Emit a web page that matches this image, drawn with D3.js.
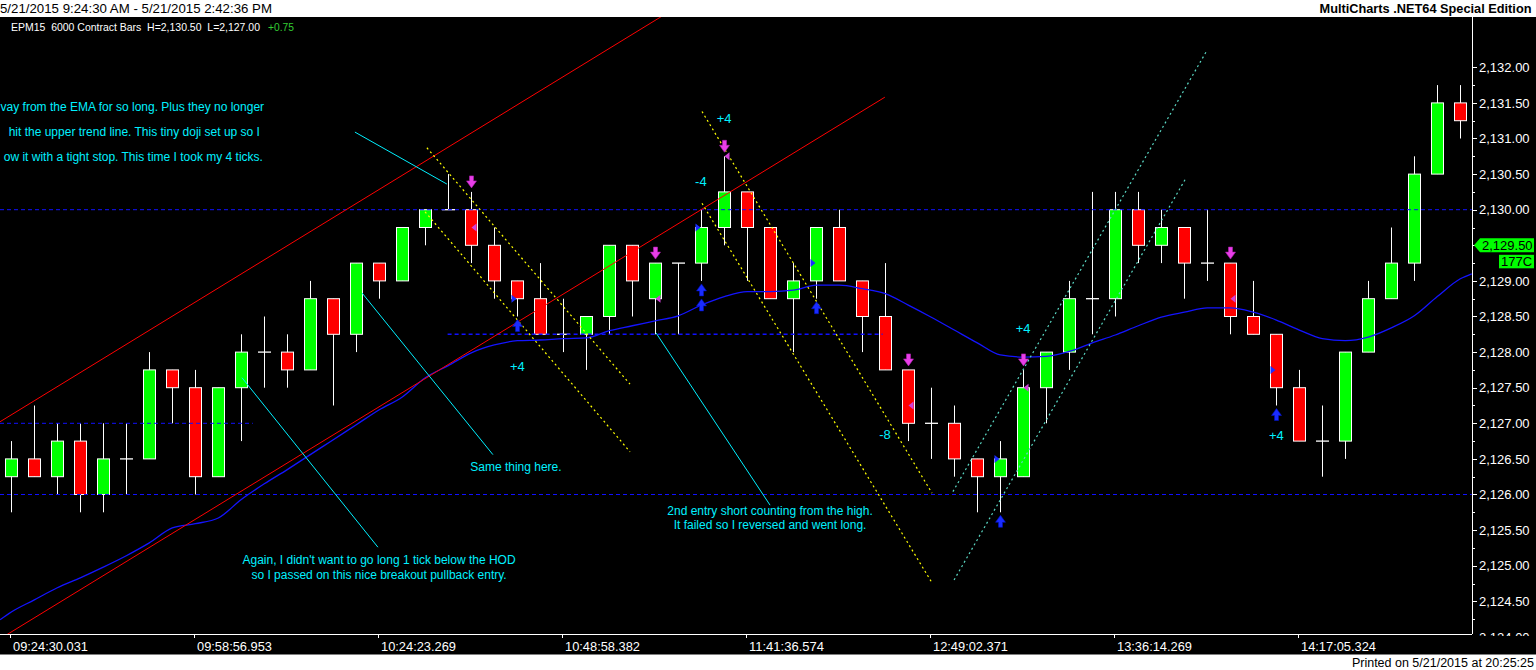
<!DOCTYPE html>
<html><head><meta charset="utf-8">
<script src="https://cdn.jsdelivr.net/npm/d3@7"></script>
<style>
html,body{margin:0;padding:0;background:#fff;overflow:hidden}
svg{display:block}
text{font-family:"Liberation Sans",Arial,sans-serif}
.pre{white-space:pre}
</style></head><body>
<svg id="c" width="1536" height="670"></svg>
<script>
// ---------- DATA ----------
const opens  = [2126.25,2126.50,2126.25,2126.75,2126.00,2126.50,2126.50,2127.75,2127.50,2126.25,
                2127.50,2128.00,2128.00,2127.75,2128.75,2128.25,2129.25,2129.00,2129.75,2130.00,
                2130.00,2129.50,2129.00,2128.75,2128.25,2128.25,2128.50,2129.50,2128.75,2129.25,
                2129.25,2129.75,2130.25,2129.75,2128.75,2129.00,2129.75,2129.00,2128.50,2127.75,
                2127.00,2127.00,2126.50,2126.25,2126.25,2127.50,2128.00,2128.75,2128.75,2130.00,
                2129.50,2129.75,2129.25,2129.25,2128.50,2128.25,2127.50,2126.75,2126.75,2128.00,
                2128.75,2129.25,2130.50,2131.50];
const highs  = [2126.75,2127.25,2127.00,2127.00,2127.00,2127.00,2128.00,2127.75,2127.75,2127.50,
                2128.25,2128.50,2128.25,2129.00,2128.75,2129.25,2129.25,2129.75,2130.00,2130.50,
                2130.25,2129.75,2129.00,2129.25,2128.75,2128.50,2129.50,2129.50,2129.25,2129.25,
                2130.00,2130.75,2130.25,2129.75,2129.25,2129.75,2130.00,2129.00,2129.25,2127.75,
                2127.50,2127.25,2126.50,2126.75,2127.75,2128.00,2129.00,2130.25,2130.25,2130.25,
                2130.00,2129.75,2130.00,2129.25,2129.00,2128.25,2127.75,2127.25,2128.00,2129.00,
                2129.75,2130.75,2131.75,2131.75];
const lows   = [2125.75,2126.25,2126.00,2125.75,2125.75,2126.00,2126.50,2127.00,2126.00,2126.25,
                2126.75,2127.50,2127.50,2127.75,2127.25,2128.00,2128.75,2129.00,2129.50,2130.00,
                2129.25,2128.75,2128.50,2128.25,2128.00,2127.75,2128.25,2128.50,2128.25,2128.25,
                2129.00,2129.50,2129.00,2128.75,2128.00,2128.75,2129.00,2128.00,2127.75,2126.75,
                2126.50,2126.25,2125.75,2125.75,2126.25,2127.00,2127.75,2128.25,2128.50,2129.25,
                2129.25,2128.75,2129.00,2128.25,2128.25,2127.25,2126.75,2126.25,2126.50,2128.00,
                2128.75,2129.00,2130.50,2131.00];
const closes = [2126.50,2126.25,2126.75,2126.00,2126.50,2126.50,2127.75,2127.50,2126.25,2127.50,
                2128.00,2128.00,2127.75,2128.75,2128.25,2129.25,2129.00,2129.75,2130.00,2130.00,
                2129.50,2129.00,2128.75,2128.25,2128.25,2128.50,2129.50,2129.00,2129.25,2129.25,
                2129.75,2130.25,2129.75,2128.75,2129.00,2129.75,2129.00,2128.50,2127.75,2127.00,
                2127.00,2126.50,2126.25,2126.50,2127.50,2128.00,2128.75,2128.75,2130.00,2129.50,
                2129.75,2129.25,2129.25,2128.50,2128.25,2127.50,2126.75,2126.75,2128.00,2128.75,
                2129.25,2130.50,2131.50,2131.25];
// EMA read at each bar
const emaValues = [2124.35,2124.52,2124.69,2124.83,2124.98,2125.14,2125.32,2125.53,2125.59,2125.67,
                   2125.93,2126.15,2126.35,2126.56,2126.77,2126.98,2127.19,2127.37,2127.64,2127.81,
                   2127.99,2128.10,2128.16,2128.17,2128.19,2128.20,2128.30,2128.37,2128.44,2128.51,
                   2128.66,2128.78,2128.85,2128.85,2128.87,2128.94,2128.94,2128.89,2128.82,2128.66,
                   2128.49,2128.31,2128.13,2127.96,2127.93,2127.94,2128.01,2128.13,2128.24,2128.37,
                   2128.49,2128.56,2128.62,2128.62,2128.56,2128.45,2128.31,2128.19,2128.16,2128.21,
                   2128.34,2128.51,2128.78,2129.03];
const emaEdgeBars   = [-0.49, 63.5];
const emaEdgeValues = [2124.24, 2129.10];

const xTickBars   = [0, 8, 16, 24, 32, 40, 48, 56];
const xTickLabels = ["09:24:30.031","09:58:56.953","10:24:23.269","10:48:58.382",
                     "11:41:36.574","12:49:02.371","13:36:14.269","14:17:05.324"];
const yMajorTicks = [2124.0,2124.5,2125.0,2125.5,2126.0,2126.5,2127.0,2127.5,2128.0,2128.5,
                     2129.0,2129.5,2130.0,2130.5,2131.0,2131.5,2132.0];
const yMinorTicks = [2124.25,2124.75,2125.25,2125.75,2126.25,2126.75,2127.25,2127.75,2128.25,
                     2128.75,2129.25,2129.75,2130.25,2130.75,2131.25,2131.75];

// horizontal dashed levels [price, fromBar, toBar]
const levelPrices = [2130.00, 2127.00, 2126.00, 2128.25];
const levelFrom   = [-0.5, -0.5, -0.5, 18.97];
const levelTo     = [63.5, 10.5, 63.5, 37.88];
const levelWidth  = [1, 1, 1, 1.6];

// trend lines: [bar1, price1, bar2, price2]
const redLines = [[-0.5, 2127.02, 28.3, 2132.72], [-0.2, 2124.03, 37.98, 2131.58]];
const yellowLines = [[18.07,2130.87,26.9,2127.55],[17.99,2129.97,26.9,2126.60],
                     [30.03,2131.38,40.03,2126.02],[30.03,2130.09,40.03,2124.76]];
const tealLines = [[40.94,2126.04,51.99,2132.24],[40.99,2124.80,51.03,2130.42]];
const cyanLines = [[14.94,2131.09,18.94,2130.36],[10.03,2127.64,15.94,2125.26],
                   [15.25,2128.83,20.94,2126.56],[28.03,2128.27,32.99,2125.85]];

// signals
const shortBars = [20, 28, 31, 39, 44, 53];
const shortPrices = [2129.75, 2128.75, 2130.75, 2127.25, 2127.50, 2128.75];
const longBars = [22, 30, 35, 43, 55];
const longPrices = [2128.75, 2129.75, 2129.25, 2126.50, 2127.75];
const longArrowCount = [1, 2, 1, 1, 1];

// P/L labels
const plTexts = ["+4", "+4", "-4", "-8", "+4", "+4"];
const plBars = [22.0, 30.99, 29.98, 37.99, 43.99, 55.0];
const plPrices = [2127.80, 2131.29, 2130.40, 2126.85, 2128.33, 2126.83];

// comment texts (centre anchored)
const noteTexts = ["Same thing here.",
  "Again, I didn't want to go long 1 tick below the HOD",
  "so I passed on this nice breakout pullback entry.",
  "2nd entry short counting from the high.",
  "It failed so I reversed and went long."];
const noteBars = [21.94, 15.99, 15.99, 32.99, 32.99];
const notePrices = [2126.39, 2125.09, 2124.88, 2125.77, 2125.57];
// clipped paragraph at top-left (right anchored)
const paraTexts = ["vay from the EMA for so long. Plus they no longer",
  "hit the upper trend line. This tiny doji set up so I",
  "ow it with a tight stop. This time I took my 4 ticks."];
const paraBars = [10.99, 10.81, 10.94];
const paraPrices = [2131.44, 2131.09, 2130.74];

const titleText = "5/21/2015 9:24:30 AM - 5/21/2015 2:42:36 PM";
const brandText = "MultiCharts .NET64 Special Edition";
const printedText = "Printed on 5/21/2015 at 20:25:25";
const infoText = "EPM15  6000 Contract Bars  H=2,130.50  L=2,127.00";
const infoChange = "+0.75";
const lastPrice = 2129.50;
const lastTag = "177C";

// ---------- LAYOUT ----------
const svg = d3.select("#c");
const plotR = 1472, plotT = 17, plotB = 634, bandB = 654.5;
const x = d3.scaleLinear().domain([0, 63]).range([11.3, 1460.3]);
const y = d3.scaleLinear().domain([2124.5, 2132]).range([601.3, 67.3]);
const CYAN = "#00f0ff";

svg.append("rect").attr("x",0).attr("y",0).attr("width",1536).attr("height",670).attr("fill","#fff");
svg.append("rect").attr("x",0).attr("y",plotT).attr("width",1536).attr("height",bandB-plotT).attr("fill","#000");

const defs = svg.append("defs");
defs.append("clipPath").attr("id","plot").append("rect")
  .attr("x",0).attr("y",plotT).attr("width",plotR).attr("height",plotB-plotT);
defs.append("clipPath").attr("id","yax").append("rect")
  .attr("x",plotR).attr("y",plotT).attr("width",1536-plotR).attr("height",636-plotT);

const g = svg.append("g").attr("clip-path","url(#plot)");

// candles
const bars = d3.range(opens.length).map(i => ({i, o:opens[i], h:highs[i], l:lows[i], c:closes[i]}));
const cx = d => Math.round(x(d.i));
g.selectAll(".wick").data(bars).join("line")
  .attr("x1", d => cx(d)+0.5).attr("x2", d => cx(d)+0.5)
  .attr("y1", d => y(d.h)).attr("y2", d => y(d.l))
  .attr("stroke","#fff").attr("stroke-width",1);
g.selectAll(".body").data(bars.filter(d => d.o !== d.c)).join("rect")
  .attr("x", d => cx(d)-5.5).attr("width", 12)
  .attr("y", d => y(Math.max(d.o,d.c))).attr("height", d => y(Math.min(d.o,d.c)) - y(Math.max(d.o,d.c)))
  .attr("fill", d => d.c > d.o ? "#00ff00" : "#ff0000")
  .attr("stroke","#fff").attr("stroke-width",1);
g.selectAll(".doji").data(bars.filter(d => d.o === d.c)).join("line")
  .attr("x1", d => cx(d)-6).attr("x2", d => cx(d)+7)
  .attr("y1", d => y(d.o)).attr("y2", d => y(d.o))
  .attr("stroke","#fff").attr("stroke-width",1.3);

// dashed levels
levelPrices.forEach((p, k) => {
  g.append("line").attr("x1", Math.max(0, x(levelFrom[k]))).attr("x2", Math.min(plotR, x(levelTo[k])))
    .attr("y1", y(p)).attr("y2", y(p))
    .attr("stroke","#1010ff").attr("stroke-width",levelWidth[k]).attr("stroke-dasharray","4,3");
});

// EMA
const emaPts = [[emaEdgeBars[0], emaEdgeValues[0]]]
  .concat(emaValues.map((v,i) => [i, v]))
  .concat([[emaEdgeBars[1], emaEdgeValues[1]]]);
g.append("path").datum(emaPts)
  .attr("d", d3.line().x(d => x(d[0])).y(d => y(d[1])).curve(d3.curveMonotoneX))
  .attr("fill","none").attr("stroke","#1414ff").attr("stroke-width",1.3);

function seg(arr, color, dash, w){
  g.selectAll(null).data(arr).join("line")
    .attr("x1", d => x(d[0])).attr("y1", d => y(d[1]))
    .attr("x2", d => x(d[2])).attr("y2", d => y(d[3]))
    .attr("stroke", color).attr("stroke-width", w).attr("stroke-dasharray", dash);
}
seg(redLines, "#ff0000", null, 1);
seg(yellowLines, "#ffff00", "2,3", 1.2);
seg(tealLines, "#5ad8c4", "2,3", 1.2);
seg(cyanLines, CYAN, null, 1);

// signal markers
const downArrow = "M-2,-6 L2,-6 L2,-1 L5,-1 L0,6 L-5,-1 L-2,-1 Z";
const upArrow   = "M-2,6 L2,6 L2,1 L5,1 L0,-6 L-5,1 L-2,1 Z";
shortBars.forEach((b, k) => {
  const bx = Math.round(x(b)) + 0.5;
  g.append("path").attr("d", downArrow)
    .attr("transform", `translate(${bx},${y(highs[b]) - 10})`)
    .attr("fill","#e83ee8").attr("stroke","#b020b0").attr("stroke-width",0.6);
  const ty = y(shortPrices[k]);
  g.append("path").attr("d", `M${bx},${ty} L${bx+5},${ty-4} L${bx+5},${ty+4} Z`).attr("fill","#d040d8");
});
longBars.forEach((b, k) => {
  const bx = Math.round(x(b)) + 0.5;
  for (let n = 0; n < longArrowCount[k]; n++) {
    g.append("path").attr("d", upArrow)
      .attr("transform", `translate(${bx},${y(lows[b]) + 9 + n*15})`)
      .attr("fill","#1a2cff").attr("stroke","#0010c0").attr("stroke-width",0.6);
  }
  const ty = y(longPrices[k]);
  g.append("path").attr("d", `M${bx-1},${ty} L${bx-6},${ty-4} L${bx-6},${ty+4} Z`).attr("fill","#1a2cff");
});

// texts
g.selectAll(null).data(plTexts).join("text")
  .attr("x", (d,k) => x(plBars[k])).attr("y", (d,k) => y(plPrices[k]))
  .attr("dy","0.36em").attr("text-anchor","middle")
  .attr("font-size",13).attr("fill",CYAN).text(d => d);
g.selectAll(null).data(noteTexts).join("text")
  .attr("x", (d,k) => x(noteBars[k])).attr("y", (d,k) => y(notePrices[k]))
  .attr("dy","0.36em").attr("text-anchor","middle")
  .attr("font-size",12).attr("fill",CYAN).text(d => d);
g.selectAll(null).data(paraTexts).join("text")
  .attr("x", (d,k) => x(paraBars[k])).attr("y", (d,k) => y(paraPrices[k]))
  .attr("dy","0.36em").attr("text-anchor","end")
  .attr("font-size",12).attr("fill",CYAN).text(d => d);

// info line
svg.append("text").attr("class","pre").attr("x",11).attr("y",31).attr("font-size",10.5).attr("fill","#fff")
  .attr("textLength",249).attr("lengthAdjust","spacingAndGlyphs").text(infoText);
svg.append("text").attr("x",268).attr("y",31).attr("font-size",10.5).attr("fill","#33cc33")
  .attr("textLength",26).attr("lengthAdjust","spacingAndGlyphs").text(infoChange);

// X axis
svg.append("line").attr("x1",0).attr("x2",plotR).attr("y1",plotB+0.5).attr("y2",plotB+0.5)
  .attr("stroke","#fff").attr("stroke-width",1);
xTickBars.forEach((b, k) => {
  const tx = Math.round(x(b)) - 0.5;
  svg.append("line").attr("x1",tx).attr("x2",tx).attr("y1",plotB).attr("y2",plotB+4)
    .attr("stroke","#fff");
  svg.append("text").attr("x", tx + 2.5).attr("y", 650.5).attr("font-size",13).attr("fill","#fff")
    .attr("textLength",75).attr("lengthAdjust","spacingAndGlyphs").text(xTickLabels[k]);
});

// Y axis
const ya = svg.append("g").attr("clip-path","url(#yax)");
ya.append("line").attr("x1",plotR+0.5).attr("x2",plotR+0.5).attr("y1",plotT).attr("y2",plotB)
  .attr("stroke","#fff");
yMajorTicks.forEach(v => {
  ya.append("line").attr("x1",plotR).attr("x2",plotR+5).attr("y1",Math.round(y(v))+0.5).attr("y2",Math.round(y(v))+0.5).attr("stroke","#fff");
  ya.append("text").attr("x",plotR+7).attr("y",y(v)).attr("dy","0.36em")
    .attr("font-size",13).attr("fill","#fff").text(d3.format(",.2f")(v));
});
yMinorTicks.forEach(v => {
  ya.append("line").attr("x1",plotR).attr("x2",plotR+3).attr("y1",Math.round(y(v))+0.5).attr("y2",Math.round(y(v))+0.5).attr("stroke","#fff");
});
// last price tag
const ly = y(lastPrice);
svg.append("path").attr("d", `M${plotR+2},${ly} L${plotR+8},${ly-7} L1534,${ly-7} L1534,${ly+7} L${plotR+8},${ly+7} Z`)
  .attr("fill","#00ff00");
svg.append("text").attr("x",plotR+10).attr("y",ly).attr("dy","0.36em").attr("font-size",13)
  .attr("fill","#000").text(d3.format(",.2f")(lastPrice));
svg.append("rect").attr("x",1499).attr("y",ly+9.5).attr("width",35).attr("height",13.5).attr("fill","#00ff00");
svg.append("text").attr("x",1516.5).attr("y",ly+16.3).attr("dy","0.36em").attr("text-anchor","middle")
  .attr("font-size",13).attr("fill","#000").text(lastTag);

// header / footer
svg.append("text").attr("x",0).attr("y",13).attr("font-size",13).attr("fill","#000")
  .attr("textLength",272).attr("lengthAdjust","spacingAndGlyphs").text(titleText);
svg.append("text").attr("x",1531.5).attr("y",12.5).attr("text-anchor","end")
  .attr("font-family","'DejaVu Sans', Verdana, sans-serif").attr("font-weight","bold")
  .attr("font-size",12).attr("fill","#000")
  .attr("textLength",212).attr("lengthAdjust","spacingAndGlyphs").text(brandText);
svg.append("text").attr("x",1534).attr("y",667).attr("text-anchor","end")
  .attr("font-size",12.5).attr("fill","#000").text(printedText);
</script>
</body></html>
